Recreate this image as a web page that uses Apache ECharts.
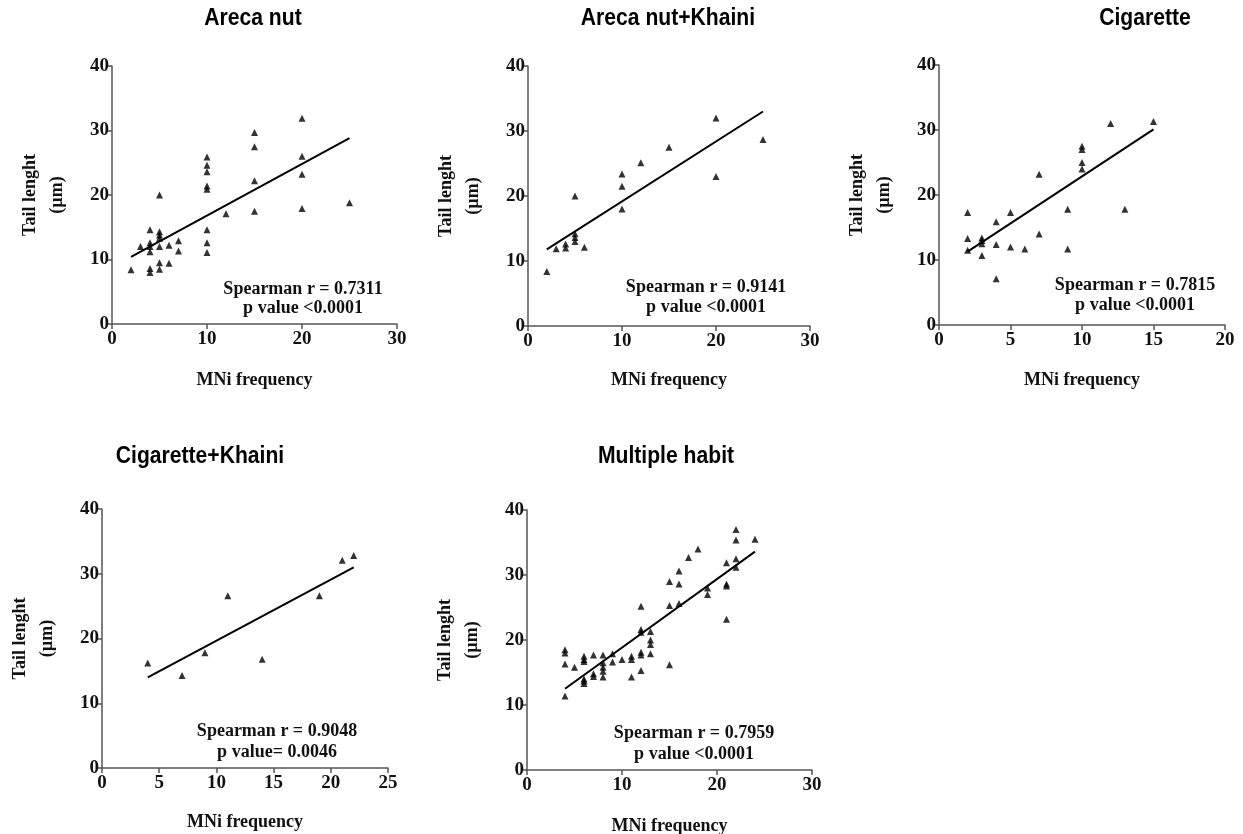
<!DOCTYPE html>
<html><head><meta charset="utf-8">
<script src="https://cdn.jsdelivr.net/npm/echarts@6/dist/echarts.min.js"></script>
<style>html,body{margin:0;padding:0;background:#fff}#c{width:1243px;height:834px}</style>
</head><body><div id="c"></div>
<script>
// ---- data ----
const panelTitles = ['Areca nut', 'Areca nut+Khaini', 'Cigarette', 'Cigarette+Khaini', 'Multiple habit'];
const statLines1 = ['Spearman r = 0.7311', 'Spearman r = 0.9141', 'Spearman r = 0.7815', 'Spearman r = 0.9048', 'Spearman r = 0.7959'];
const statLines2 = ['p value <0.0001', 'p value <0.0001', 'p value <0.0001', 'p value= 0.0046', 'p value <0.0001'];
const xAxisName = 'MNi frequency';
const yAxisName = 'Tail lenght\n(µm)';
const xMaxes = [30, 30, 20, 25, 30];
const xSteps = [10, 10, 5, 5, 10];
const yTicks = [0, 10, 20, 30, 40];

const arecaX = [2,3,4,4,4,4,4,4,5,5,5,5,5,5,5,6,6,7,7,10,10,10,10,10,10,10,10,12,15,15,15,15,20,20,20,20,25];
const arecaY = [8.4,12.0,14.6,12.6,12.0,11.2,8.6,8.0,20.0,14.3,13.8,13.3,12.0,9.5,8.5,12.2,9.4,12.9,11.3,25.9,24.6,23.6,21.4,20.9,14.6,12.6,11.1,17.1,29.7,27.5,22.2,17.5,31.9,26.0,23.2,17.9,18.8];
const arecaFitX = [2, 25];
const arecaFitY = [10.4, 28.8];

const arecaKhainiX = [2,3,4,4,5,5,5,5,6,10,10,10,12,15,20,20,25];
const arecaKhainiY = [8.4,11.9,12.6,12.0,20.0,14.2,13.6,13.0,12.1,23.4,21.5,18.0,25.1,27.5,32.0,23.0,28.7];
const arecaKhainiFitX = [2, 25];
const arecaKhainiFitY = [11.8, 33.0];

const cigaretteX = [2,2,2,3,3,3,3,4,4,4,5,5,6,7,7,9,9,10,10,10,10,12,13,15];
const cigaretteY = [17.3,13.3,11.5,13.4,13.0,12.5,10.7,15.9,12.4,7.1,17.3,12.0,11.7,23.2,14.0,17.8,11.7,27.5,27.0,25.0,24.0,31.0,17.8,31.3];
const cigaretteFitX = [2, 15];
const cigaretteFitY = [11.3, 30.1];

const cigKhainiX = [4,7,9,11,14,19,21,22];
const cigKhainiY = [16.2,14.3,17.8,26.6,16.8,26.6,32.1,32.8];
const cigKhainiFitX = [4, 22];
const cigKhainiFitY = [14.0, 31.0];

const multipleX = [4,4,4,4,5,6,6,6,6,6,6,7,7,7,8,8,8,8,8,9,9,10,11,11,11,12,12,12,12,12,12,13,13,13,13,15,15,15,16,16,16,17,18,19,19,21,21,21,21,22,22,22,22,24];
const multipleY = [18.5,18.0,16.3,11.4,15.8,17.5,17.0,16.7,14.0,13.7,13.3,17.7,14.8,14.4,17.7,16.5,15.8,15.2,14.3,17.9,16.6,17.0,17.5,17.0,14.3,25.2,21.6,21.2,18.1,17.7,15.3,21.3,20.0,19.3,17.9,29.0,25.3,16.2,30.6,28.6,25.6,32.7,34.0,28.0,27.0,31.9,28.6,28.3,23.2,37.0,35.4,32.5,31.2,35.5];
const multipleFitX = [4, 24];
const multipleFitY = [12.5, 33.6];

const pointsX = [arecaX, arecaKhainiX, cigaretteX, cigKhainiX, multipleX];
const pointsY = [arecaY, arecaKhainiY, cigaretteY, cigKhainiY, multipleY];
const fitsX = [arecaFitX, arecaKhainiFitX, cigaretteFitX, cigKhainiFitX, multipleFitX];
const fitsY = [arecaFitY, arecaKhainiFitY, cigaretteFitY, cigKhainiFitY, multipleFitY];

// ---- layout ----
const grids = [
  {left: 112, top: 66, width: 285, height: 258},
  {left: 528, top: 66, width: 282, height: 260},
  {left: 939, top: 65, width: 286, height: 260},
  {left: 102, top: 509, width: 286, height: 259},
  {left: 527, top: 510, width: 285, height: 260}
];
const titlePos = [[253, 18], [668, 18], [1145, 18], [200, 456], [666, 456]];
const statPos = [[303, 289, 308], [706, 287, 307], [1135, 285, 305], [277, 731, 752], [694, 733, 754]];
const xNameY = [380, 380, 380, 822, 826];

const serif = '"Liberation Serif", "Times New Roman", serif';
const sansNarrow = '"Liberation Sans Narrow", "Arial Narrow", "Liberation Sans", Arial, sans-serif';
const axisColor = '#555';

const chart = echarts.init(document.getElementById('c'), null, {renderer: 'canvas'});
const xAxes = [], yAxes = [], series = [], graphics = [];
grids.forEach((g, i) => {
  xAxes.push({
    type: 'value', gridIndex: i, min: 0, max: xMaxes[i], interval: xSteps[i],
    splitLine: {show: false},
    axisLine: {show: true, onZero: false, lineStyle: {color: axisColor, width: 1.5}},
    axisTick: {show: true, length: 5, lineStyle: {color: axisColor, width: 1.5}},
    axisLabel: {color: '#111', fontFamily: serif, fontWeight: 'bold', fontSize: 19, margin: 6}
  });
  yAxes.push({
    type: 'value', gridIndex: i, min: yTicks[0], max: yTicks[yTicks.length - 1], interval: 10,
    splitLine: {show: false},
    axisLine: {show: true, onZero: false, lineStyle: {color: axisColor, width: 1.5}},
    axisTick: {show: true, length: 5, lineStyle: {color: axisColor, width: 1.5}},
    axisLabel: {color: '#111', fontFamily: serif, fontWeight: 'bold', fontSize: 19, margin: 3}
  });
  series.push({
    type: 'scatter', xAxisIndex: i, yAxisIndex: i, symbol: 'triangle', symbolSize: 7,
    itemStyle: {color: '#000'},
    data: pointsX[i].map((x, k) => [x, pointsY[i][k]])
  });
  series.push({
    type: 'line', xAxisIndex: i, yAxisIndex: i, symbol: 'none',
    lineStyle: {color: '#000', width: 2},
    data: fitsX[i].map((x, k) => [x, fitsY[i][k]])
  });
  graphics.push({
    type: 'text', x: titlePos[i][0], y: titlePos[i][1], scaleX: 0.88,
    style: {text: panelTitles[i], align: 'center', verticalAlign: 'middle',
      font: 'bold 24px ' + sansNarrow, fill: '#000'}
  });
  graphics.push({
    type: 'text', x: g.left + g.width / 2, y: xNameY[i],
    style: {text: xAxisName, align: 'center', verticalAlign: 'middle',
      font: 'bold 18px ' + serif, fill: '#111'}
  });
  graphics.push({
    type: 'text', x: g.left - 68, y: g.top + g.height / 2, rotation: Math.PI / 2,
    style: {text: yAxisName, align: 'center', verticalAlign: 'middle',
      font: 'bold 18px ' + serif, fill: '#111', lineHeight: 27}
  });
  graphics.push({
    type: 'text', x: statPos[i][0], y: statPos[i][1],
    style: {text: statLines1[i], align: 'center', verticalAlign: 'middle',
      font: 'bold 18px ' + serif, fill: '#111'}
  });
  graphics.push({
    type: 'text', x: statPos[i][0], y: statPos[i][2],
    style: {text: statLines2[i], align: 'center', verticalAlign: 'middle',
      font: 'bold 18px ' + serif, fill: '#111'}
  });
});

chart.setOption({
  animation: false,
  backgroundColor: '#fff',
  grid: grids.map(g => Object.assign({containLabel: false}, g)),
  xAxis: xAxes,
  yAxis: yAxes,
  series: series,
  graphic: graphics
});
</script></body></html>
